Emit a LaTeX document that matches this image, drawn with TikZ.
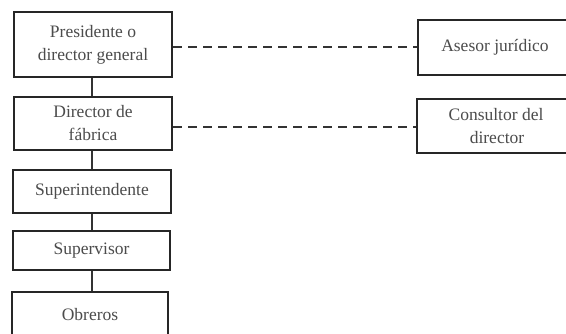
\documentclass[tikz,border=0pt]{standalone}
\usepackage{fontspec}
\setmainfont{Liberation Serif}
\begin{document}
\begin{tikzpicture}[x=1pt,y=-1pt,
  box/.style={draw=black!85, line width=2pt, fill=white, inner sep=0pt, align=center,
    font=\fontsize{17.5}{23}\selectfont, text=black!70},
  conn/.style={draw=black!80, line width=1.5pt},
  dconn/.style={draw=black!80, line width=2pt, dash pattern=on 9pt off 6pt}]
\useasboundingbox (0,0) rectangle (566,334);
\clip (0,0) rectangle (566,334);
\node[box, minimum width=158pt, minimum height=65pt] (pres) at (93,44.5) {Presidente o\\director general};
\node[box, minimum width=158pt, minimum height=53pt] (dir) at (93,123.5) {Director de\\fábrica};
\node[box, minimum width=158pt, minimum height=43pt] (sup) at (92,191.5) {Superintendente};
\node[box, minimum width=157pt, minimum height=39pt] (visor) at (91.5,250.5) {Supervisor};
\node[box, minimum width=156pt, minimum height=46pt] (obr) at (90,315) {Obreros};
\node[box, minimum width=162pt, minimum height=55pt] (ases) at (499,47.5) {\hspace*{-8pt}Asesor jurídico};
\node[box, minimum width=160pt, minimum height=54pt] (cons) at (497,126) {\hspace*{-2pt}Consultor del\\director};
\draw[conn] (pres.south -| 92,0) -- (dir.north -| 92,0);
\draw[conn] (dir.south -| 92,0) -- (sup.north -| 92,0);
\draw[conn] (sup.south -| 92,0) -- (visor.north -| 92,0);
\draw[conn] (visor.south -| 92,0) -- (obr.north -| 92,0);
\draw[dconn] (pres.east |- 0,47.5) -- (ases.west |- 0,47.5);
\draw[dconn] (dir.east |- 0,127.5) -- (cons.west |- 0,127.5);
\end{tikzpicture}
\end{document}
